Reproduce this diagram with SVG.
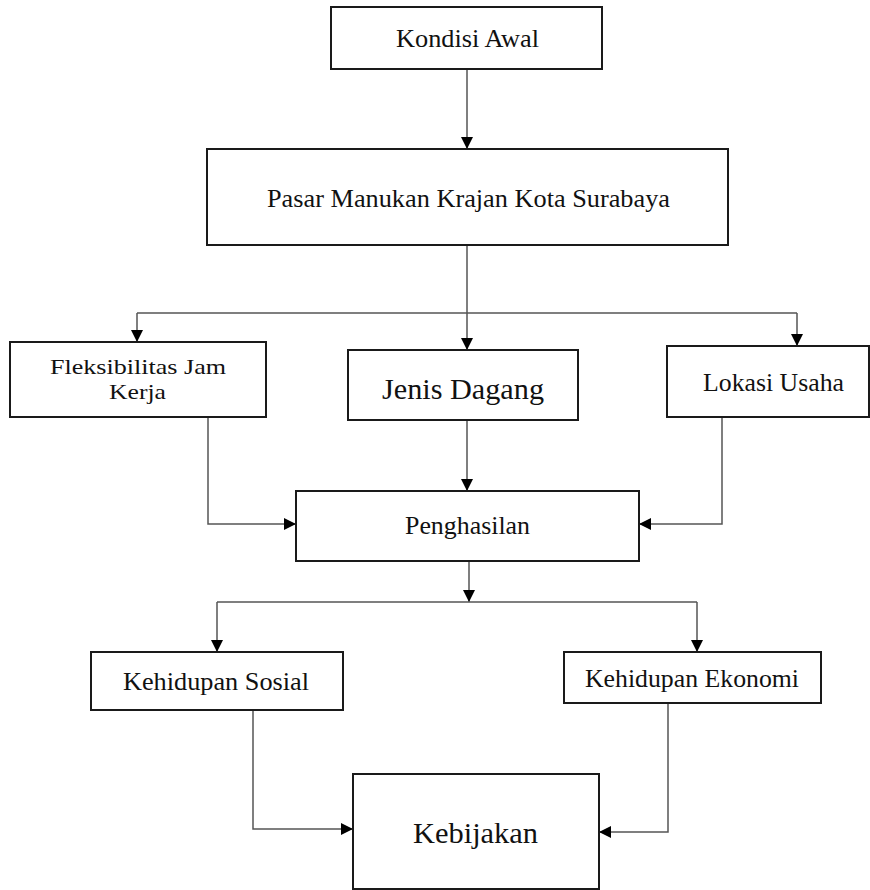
<svg xmlns="http://www.w3.org/2000/svg" width="870" height="890" viewBox="0 0 870 890">
<defs>
<marker id="arr" markerUnits="userSpaceOnUse" markerWidth="12" markerHeight="12" refX="12" refY="6" orient="auto">
<path d="M0,0 L12,6 L0,12 z" fill="#000"/>
</marker>
<style>
.box{fill:#fff;stroke:#1a1a1a;stroke-width:2}
.lbl{font-family:"Liberation Serif","Times New Roman",serif;fill:#111;font-size:26px}
.big{font-size:30px}
.sm{font-size:21px}
.con{fill:none;stroke:#555;stroke-width:1.5}
.arr{marker-end:url(#arr)}
</style>
</defs>
<rect width="870" height="890" fill="#fff"/>
<g id="connectors">
<path class="con arr" d="M467 69 V149"/>
<path class="con arr" d="M467 245 V350"/>
<path class="con" d="M137 313 H797"/>
<path class="con arr" d="M137 313 V342"/>
<path class="con arr" d="M797 313 V346"/>
<path class="con arr" d="M467 420 V491"/>
<path class="con arr" d="M208 417 V524 H296"/>
<path class="con arr" d="M722 417 V524 H639"/>
<path class="con arr" d="M469 561 V602"/>
<path class="con" d="M217 602 H697"/>
<path class="con arr" d="M217 602 V652"/>
<path class="con arr" d="M697 602 V652"/>
<path class="con arr" d="M253 710 V829 H353"/>
<path class="con arr" d="M668 703 V832 H599"/>
</g>
<g id="kondisi-awal">
<rect class="box" x="331" y="7" width="271" height="62"/>
<text class="lbl" x="396" y="47" textLength="143" lengthAdjust="spacingAndGlyphs">Kondisi Awal</text>
</g>
<g id="pasar">
<rect class="box" x="207" y="149" width="521" height="96"/>
<text class="lbl" x="267" y="207" textLength="403" lengthAdjust="spacingAndGlyphs">Pasar Manukan Krajan Kota Surabaya</text>
</g>
<g id="fleksibilitas">
<rect class="box" x="10" y="342" width="256" height="75"/>
<text class="lbl sm" x="50" y="374" textLength="176" lengthAdjust="spacingAndGlyphs">Fleksibilitas Jam</text>
<text class="lbl sm" x="109" y="399" textLength="57" lengthAdjust="spacingAndGlyphs">Kerja</text>
</g>
<g id="jenis-dagang">
<rect class="box" x="348" y="350" width="230" height="70"/>
<text class="lbl big" x="382" y="399" textLength="162" lengthAdjust="spacingAndGlyphs">Jenis Dagang</text>
</g>
<g id="lokasi-usaha">
<rect class="box" x="667" y="346" width="202" height="71"/>
<text class="lbl" x="703" y="391" textLength="141" lengthAdjust="spacingAndGlyphs">Lokasi Usaha</text>
</g>
<g id="penghasilan">
<rect class="box" x="296" y="491" width="343" height="70"/>
<text class="lbl" x="405" y="534" textLength="125" lengthAdjust="spacingAndGlyphs">Penghasilan</text>
</g>
<g id="kehidupan-sosial">
<rect class="box" x="91" y="652" width="252" height="58"/>
<text class="lbl" x="123" y="690" textLength="186" lengthAdjust="spacingAndGlyphs">Kehidupan Sosial</text>
</g>
<g id="kehidupan-ekonomi">
<rect class="box" x="564" y="652" width="257" height="51"/>
<text class="lbl" x="585" y="687" textLength="214" lengthAdjust="spacingAndGlyphs">Kehidupan Ekonomi</text>
</g>
<g id="kebijakan">
<rect class="box" x="353" y="774" width="246" height="115"/>
<text class="lbl big" x="413" y="843" textLength="125" lengthAdjust="spacingAndGlyphs">Kebijakan</text>
</g>
</svg>
